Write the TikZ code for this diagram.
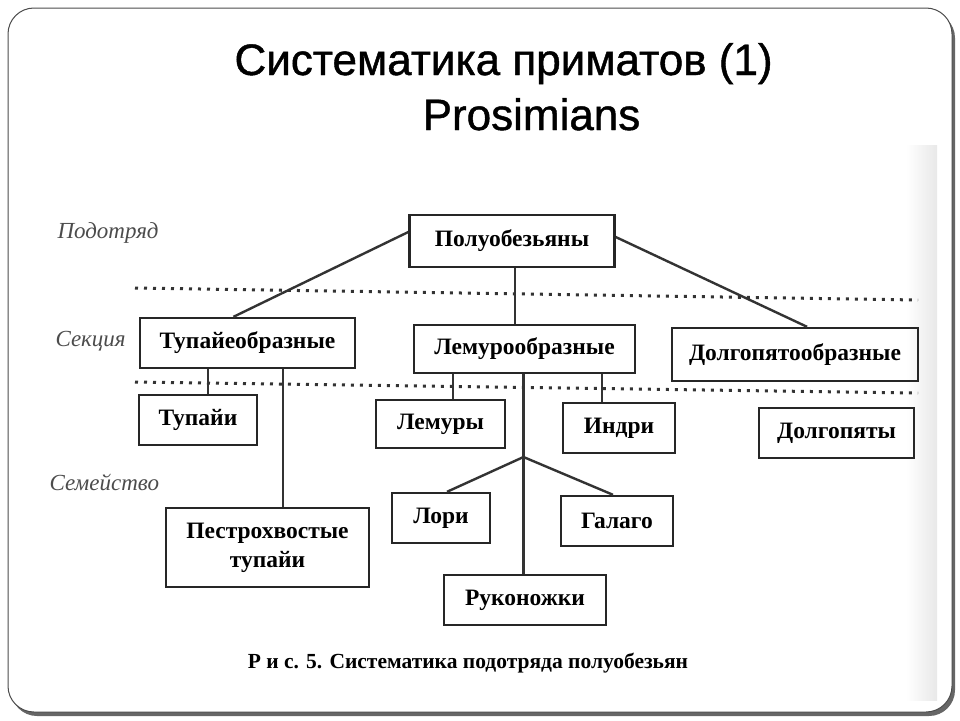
\documentclass[tikz,border=0pt]{standalone}
\usepackage{fontspec}
\setmainfont{Liberation Serif}
\newfontfamily\titlefont[FakeBold=1]{Liberation Sans}
\usetikzlibrary{positioning, calc}

\begin{document}
\begin{tikzpicture}[x=1pt, y=-1pt,
  taxon/.style={draw=black!85, line width=2.4pt, inner sep=0pt, align=center,
    font=\fontsize{23.5}{27}\selectfont\bfseries},
  rank/.style={anchor=west, text=black!70, font=\fontsize{23}{25}\selectfont\itshape},
  link/.style={draw=black!80, line width=2.4pt},
  level/.style={draw=black!80, line width=3pt, dash pattern=on 3pt off 6pt}]
  \useasboundingbox (0,0) rectangle (960,720);

  % slide frame
  \fill[black!60, rounded corners=26pt] (11,12) rectangle (955,716);
  \filldraw[fill=white, draw=black!70, line width=1pt, rounded corners=26pt] (8,8) rectangle (952,712);
  \shade[left color=white, right color=black!9] (906,145) rectangle (937,700);

  % title
  \node[anchor=base, font=\titlefont\fontsize{44}{48}\selectfont] (title) at (503.5,75) {Систематика приматов (1)};
  \node[anchor=base, font=\titlefont\fontsize{44}{48}\selectfont] (subtitle) at (531.5,130) {Prosimians};

  % rank borders
  \draw[level] (135,288) -- (918,300);
  \draw[level] (135,382) -- (918,393);

  \node[rank] (podotr) at (54,233) {Подотряд};
  \node[rank] (sekc) at (52,341) {Секция};
  \node[rank] (semeist) at (46,482) {Семейство};

  % suborder and sections
  \node[taxon, minimum width=205pt, minimum height=52pt] (polu) at (512,241) {Полуобезьяны};
  \node[taxon, minimum width=215pt, minimum height=50pt] (tupobr) at (247.5,343) {Тупайеобразные};
  \node[taxon, minimum width=221pt, minimum height=48pt] (lemobr) at (524.5,349) {Лемурообразные};
  \node[taxon, minimum width=246pt, minimum height=53pt] (dolobr) at (795,354.5) {Долгопятообразные};

  % families
  \node[taxon, minimum width=118pt, minimum height=50pt] (tupai) at (198,420) {Тупайи};
  \node[taxon, minimum width=129pt, minimum height=48pt] (lemury) at (440.5,424) {Лемуры};
  \node[taxon, minimum width=112pt, minimum height=50pt] (indri) at (619,428) {Индри};
  \node[taxon, minimum width=155pt, minimum height=50pt] (dolgo) at (836.5,433) {Долгопяты};
  \node[taxon, minimum width=98pt, minimum height=50pt] (lori) at (441,518) {Лори};
  \node[taxon, minimum width=112pt, minimum height=50pt] (galago) at (617,521) {Галаго};
  \node[taxon, minimum width=203pt, minimum height=79pt] (pestr) at (267.5,547.5) {Пестрохвостые\\[2pt]тупайи};
  \node[taxon, minimum width=162pt, minimum height=50pt] (ruk) at (525,600) {Руконожки};

  % links
  \draw[link] ([yshift=9pt]polu.west) -- ([xshift=-14pt]tupobr.north);
  \draw[link] ([xshift=3pt]polu.south) -- ([xshift=3pt]polu.south |- lemobr.north);
  \draw[link] ([yshift=4pt]polu.east) -- ([xshift=12pt]dolobr.north);
  \draw[link] ([xshift=-39.5pt]tupobr.south) -- ([xshift=-39.5pt]tupobr.south |- tupai.north);
  \draw[link] ([xshift=35.5pt]tupobr.south) -- ([xshift=35.5pt]tupobr.south |- pestr.north);
  \draw[link] ([xshift=-71.5pt]lemobr.south) -- ([xshift=-71.5pt]lemobr.south |- lemury.north);
  \draw[link] ([xshift=77.5pt]lemobr.south) -- ([xshift=77.5pt]lemobr.south |- indri.north);
  \draw[link] ([xshift=-1pt]lemobr.south) -- ([xshift=-1pt]lemobr.south |- ruk.north);
  \coordinate (fork) at (523.5,457);
  \draw[link] ([xshift=6pt]lori.north) -- (fork) -- ([xshift=-4pt]galago.north);

  % caption
  \node[font=\fontsize{21.5}{24}\selectfont\bfseries] (caption) at (468,663) {Р и с. 5. Систематика подотряда полуобезьян};
\end{tikzpicture}
\end{document}
